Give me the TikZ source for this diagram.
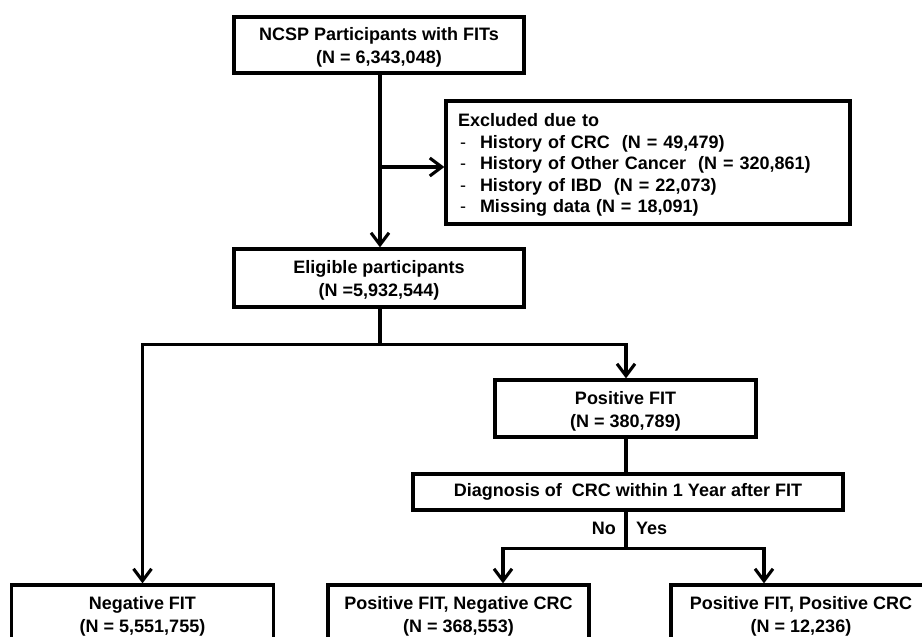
\documentclass[tikz,border=0pt]{standalone}
\usepackage{fontspec}
\setmainfont{Liberation Sans}
\usetikzlibrary{arrows.meta,calc}
\newcommand\lidash{\makebox[22pt][l]{\hspace{2pt}\mdseries-}}
\newcommand\tup{\rule{0pt}{18pt}}
\begin{document}
\begin{tikzpicture}[x=1pt,y=-1pt,
  box/.style={draw, line width=3.3pt, inner sep=0pt, align=center,
              font=\fontsize{18}{23}\selectfont\bfseries},
  lbl/.style={inner sep=0pt, font=\fontsize{18}{23}\selectfont\bfseries},
  conn/.style={line width=3.1pt},
  arr/.style={conn, -{Straight Barb[length=12pt,width=18pt]}}]
\useasboundingbox (0,0) rectangle (922,637);
\clip (0,0) rectangle (922,637);

\node[box, minimum width=290pt, minimum height=56pt] (top) at (379,45)
  {\tup NCSP Participants with FITs\\(N = 6,343,048)};
\node[box, align=left, text width=380pt, inner xsep=12pt, minimum height=123pt,
      font=\fontsize{18}{21.5}\selectfont\bfseries] (excl) at (648,162.5)
  {\tup Excluded due to\\
   \lidash History of CRC~ (N = 49,479)\\
   \lidash History of Other Cancer~ (N = 320,861)\\
   \lidash History of IBD~ (N = 22,073)\\
   \lidash Missing data (N = 18,091)};
\node[box, minimum width=290pt, minimum height=58pt] (elig) at (379,278)
  {\tup Eligible participants\\(N =5,932,544)};
\node[box, minimum width=261pt, minimum height=57pt] (pos) at (625.5,408.5)
  {\tup Positive FIT\\(N = 380,789)};
\node[box, minimum width=430pt, minimum height=36pt] (diag) at (628,492)
  {Diagnosis of~ CRC within 1 Year after FIT};
\node[box, minimum width=262pt, minimum height=57pt] (neg) at (142.5,613.5)
  {\tup Negative FIT\\(N = 5,551,755)};
\node[box, minimum width=261pt, minimum height=57pt] (mid) at (458.5,613.5)
  {\tup Positive FIT, Negative CRC\\(N = 368,553)};
\node[box, minimum width=260pt, minimum height=57pt] (rgt) at (801,613.5)
  {\tup Positive FIT, Positive CRC\\(N = 12,236)};

\node[lbl, anchor=east] (no) at (616,528.5) {No};
\node[lbl, anchor=west] (yes) at (636,528.5) {Yes};

\coordinate (j1) at (380,167);
\draw[arr] ($(top.south)+(1,0)$) -- ($(elig.north)+(1,0)$);
\draw[arr] (j1) -- (j1 -| excl.west);

\coordinate (b1) at ($(elig.south)+(1,36)$);
\draw[arr] ($(elig.south)+(1,0)$) -- (b1) -| (neg.north);
\draw[arr] (b1) -| ($(pos.north)+(0.5,0)$);

\draw[conn] ($(pos.south)+(0.5,0)$) -- ($(pos.south |- diag.north)+(0.5,0)$);
\coordinate (b2) at ($(pos.south |- diag.south)+(0.5,37)$);
\draw[arr] ($(pos.south |- diag.south)+(0.5,0)$) -- (b2) -| ($(mid.north)+(44.5,0)$);
\draw[arr] (b2) -| ($(rgt.north)+(-37,0)$);
\end{tikzpicture}
\end{document}
